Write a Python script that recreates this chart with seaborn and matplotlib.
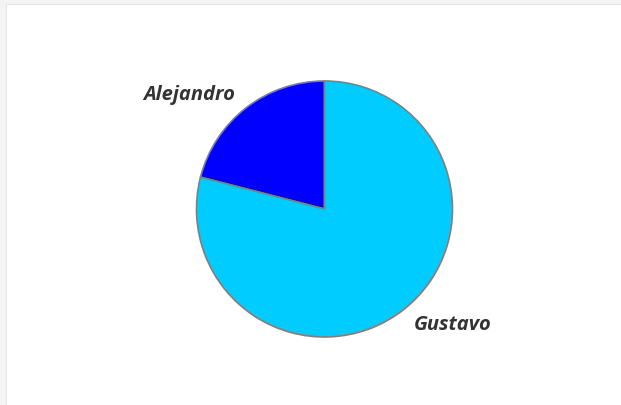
import matplotlib
matplotlib.use("Agg")
import matplotlib.pyplot as plt
from matplotlib.patches import Rectangle
import seaborn as sns

# data
names = ["Alejandro", "Gustavo"]
shares = [21.0, 79.0]
slice_colors = ["#0000ff", "#00ccff"]

sns.set_style("white")
plt.rcParams['font.family'] = ['Open Sans', 'DejaVu Sans']

fig = plt.figure(figsize=(6.21, 4.06), dpi=100)
fig.patch.set_facecolor("#f4f4f4")
# white card behind the chart
fig.patches.append(Rectangle((6 / 621, 0), 1, 1 - 5 / 406, transform=fig.transFigure,
                             facecolor="white", edgecolor="#e6e6e6", linewidth=0.8, zorder=-5))

ax = fig.add_axes([196.5 / 621, 68 / 406, 256 / 621, 256 / 406])
ax.set_facecolor("none")
ax.set_zorder(5)
wedges, texts = ax.pie(shares, labels=names, colors=sns.color_palette(slice_colors),
                       startangle=90, counterclock=True, labeldistance=1.14,
                       wedgeprops=dict(edgecolor="#808080", linewidth=1.2),
                       textprops=dict(fontsize=14.5, fontstyle="italic", fontweight="bold",
                                      color="#333333"))
ax.set_xlim(-1, 1)
ax.set_ylim(-1, 1)
ax.set_aspect("equal")
ax.axis("off")

fig.savefig("out.png", dpi=100, facecolor=fig.get_facecolor())
